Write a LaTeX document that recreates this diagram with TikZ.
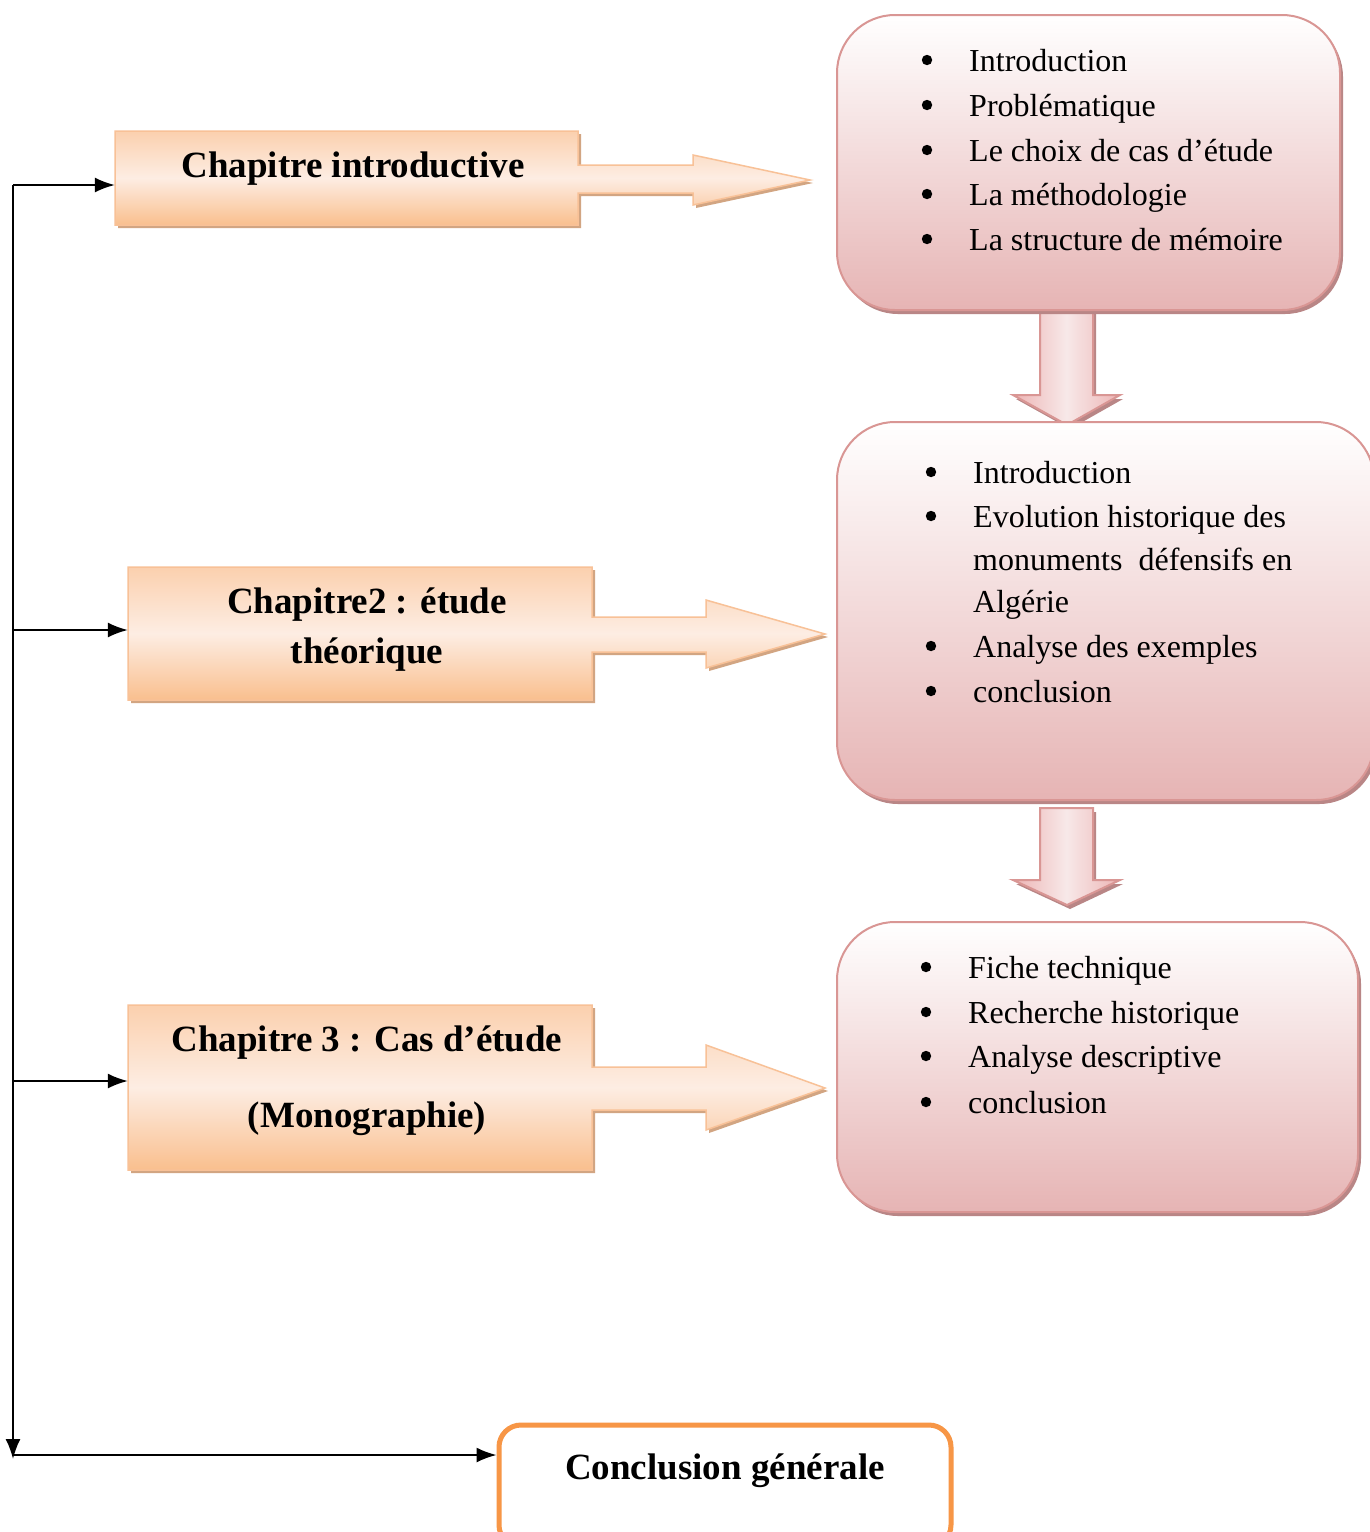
\documentclass[tikz,border=0pt]{standalone}
\usepackage{fontspec}
\setmainfont{Liberation Serif}
\usetikzlibrary{arrows.meta,shadows}
\definecolor{orline}{HTML}{F8C197}
\definecolor{ortop}{HTML}{FBD0AE}
\definecolor{ormid}{HTML}{FDEDE3}
\definecolor{orbot}{HTML}{F9BF8E}
\definecolor{orshadow}{HTML}{D2A582}
\definecolor{pkline}{HTML}{D99694}
\definecolor{pkbot}{HTML}{E6B4B4}
\definecolor{pkshadow}{HTML}{B98686}
\definecolor{concl}{HTML}{F79646}
\tikzset{
  callout/.style={draw=orline, line width=1.5pt, top color=ortop, bottom color=orbot, middle color=ormid,
    drop shadow={shadow xshift=3pt, shadow yshift=-3pt, opacity=1, fill=orshadow, draw=none}},
  bodybox/.style={draw=none, inner sep=0pt, rectangle},
  pinkbox/.style={draw=pkline, line width=2pt, rounded corners=58pt, top color=white, bottom color=pkbot,
    drop shadow={shadow xshift=3pt, shadow yshift=-4pt, opacity=1, fill=pkshadow, draw=none}, inner sep=0pt},
  downarrow/.style={draw=pkline, line width=2pt, left color=pkbot!90!red!80!white, right color=pkbot!90!red!80!white, middle color=pkbot!30!white,
    drop shadow={shadow xshift=3pt, shadow yshift=-4pt, opacity=1, fill=pkshadow, draw=none}},
  item/.style={anchor=base west, inner sep=0pt, font=\fontsize{32}{38}\selectfont},
  title/.style={anchor=base, inner sep=0pt, font=\fontsize{37}{44}\selectfont\bfseries},
  conn/.style={line width=1.8pt, -{Latex[length=20pt,width=15pt]}},
  conclbox/.style={draw=concl, line width=5pt, rounded corners=22pt, fill=white, inner sep=0pt}
}
% bullet + item text: #1 = x of bullet centre, #2 = baseline y, #3 = name, #4 = text
\newcommand\bulitem[4]{%
  \fill (#1,#2-11) circle[radius=5.2pt];
  \node[item] (#3) at (#1+42,#2) {#4};}
\begin{document}
\begin{tikzpicture}[x=1pt,y=-1pt]
\useasboundingbox[fill=white] (0,0) rectangle (1370,1532);

% Callout arrows (orange)
\path[callout] (115,131) -- (578,131) -- (578,165) -- (693,165) -- (693,155) -- (810,180) -- (693,205) -- (693,193) -- (578,193) -- (578,225) -- (115,225) -- cycle;
\path[callout] (128,567) -- (592,567) -- (592,617) -- (706,617) -- (706,600) -- (825,634) -- (706,668) -- (706,652) -- (592,652) -- (592,700) -- (128,700) -- cycle;
\path[callout] (128,1005) -- (592,1005) -- (592,1067) -- (706,1067) -- (706,1045) -- (825,1088) -- (706,1130) -- (706,1110) -- (592,1110) -- (592,1170) -- (128,1170) -- cycle;

\node[bodybox, minimum width=463pt, minimum height=94pt] (ch1) at (346.5,178) {};
\node[bodybox, minimum width=464pt, minimum height=133pt] (ch2) at (360,633.5) {};
\node[bodybox, minimum width=464pt, minimum height=165pt] (ch3) at (360,1087.5) {};

\node[title] (t1) at (353,177) {Chapitre introductive};
\node[title] (t2a) at (367,613) {Chapitre2 : étude};
\node[title] (t2b) at (367,663) {théorique};
\node[title] (t3a) at (367,1051) {Chapitre 3 : Cas d’étude};
\node[title] (t3b) at (367,1127) {(Monographie)};

% Down arrows
\path[downarrow] (1040,310) -- (1093,310) -- (1093,395) -- (1120,395) -- (1067,425) -- (1013,395) -- (1040,395) -- cycle;
\path[downarrow] (1040,808) -- (1093,808) -- (1093,880) -- (1120,880) -- (1067,905) -- (1013,880) -- (1040,880) -- cycle;

% Pink boxes
\node[pinkbox, minimum width=503pt, minimum height=295pt] (b1) at (1088.5,162.5) {};
\node[pinkbox, minimum width=537pt, minimum height=378pt] (b2) at (1105.5,611) {};
\node[pinkbox, minimum width=521pt, minimum height=290pt] (b3) at (1097.5,1067) {};

% Box 1 items
\bulitem{927}{71}{b1i1}{Introduction}
\bulitem{927}{116}{b1i2}{Problématique}
\bulitem{927}{161}{b1i3}{Le choix de cas d’étude}
\bulitem{927}{205}{b1i4}{La méthodologie}
\bulitem{927}{250}{b1i5}{La structure de mémoire}

% Box 2 items
\bulitem{931}{483}{b2i1}{Introduction}
\bulitem{931}{527}{b2i2}{Evolution historique des}
\node[item] (b2i2b) at (973,570) {monuments\ \ défensifs en};
\node[item] (b2i2c) at (973,612) {Algérie};
\bulitem{931}{657}{b2i3}{Analyse des exemples}
\bulitem{931}{702}{b2i4}{conclusion}

% Box 3 items
\bulitem{926}{978}{b3i1}{Fiche technique}
\bulitem{926}{1023}{b3i2}{Recherche historique}
\bulitem{926}{1067}{b3i3}{Analyse descriptive}
\bulitem{926}{1113}{b3i4}{conclusion}

% Conclusion box
\node[conclbox, minimum width=452pt, minimum height=122pt] (cg) at (725,1486) {};
\node[title] (cgt) at (725,1479) {Conclusion générale};

% Left connectors
\coordinate (vtop) at (13,185);
\coordinate (v2) at (13,630);
\coordinate (v3) at (13,1081);
\coordinate (v4) at (13,1455);
\coordinate (vbot) at (13,1459);
\draw[conn] (vtop) -- (vbot);
\draw[conn] (vtop) -- (vtop -| ch1.west);
\draw[conn] (v2) -- (v2 -| ch2.west);
\draw[conn] (v3) -- (v3 -| ch3.west);
\draw[conn] (v4) -- (v4 -| cg.west);
\end{tikzpicture}
\end{document}
